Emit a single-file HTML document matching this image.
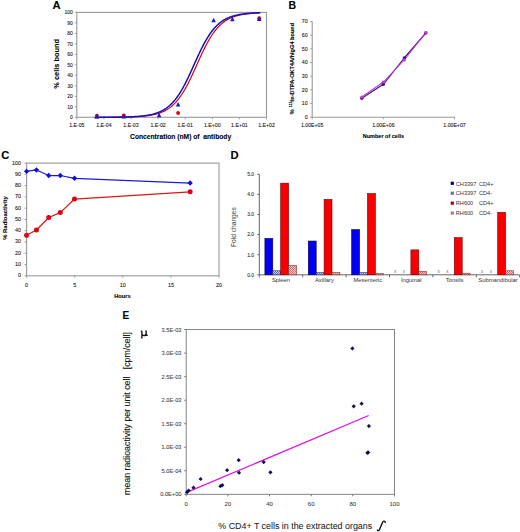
<!DOCTYPE html>
<html><head><meta charset="utf-8"><style>
html,body{margin:0;padding:0;background:#fff;}
svg{display:block;}
text{font-family:"Liberation Sans", sans-serif;}
</style></head><body>
<svg width="520" height="532" viewBox="0 0 520 532">
<defs>
<pattern id="pb" width="2" height="2" patternUnits="userSpaceOnUse"><rect width="2" height="2" fill="#c8d0f8"/><rect width="1" height="1" fill="#5868d8"/><rect x="1" y="1" width="1" height="1" fill="#5868d8"/></pattern>
<pattern id="pp" width="2" height="2" patternUnits="userSpaceOnUse"><rect width="2" height="2" fill="#f8c8c8"/><rect width="1" height="1" fill="#d86868"/><rect x="1" y="1" width="1" height="1" fill="#d86868"/></pattern>
</defs>
<rect width="520" height="532" fill="#fff"/>
<text x="52.60" y="8.60" font-size="11.2" text-anchor="start" font-weight="bold" fill="#000" stroke="#000" stroke-width="0.1">A</text>
<rect x="76.80" y="12.40" width="189.70" height="104.90" fill="none" stroke="#999" stroke-width="1.1"/>
<line x1="74.80" y1="117.30" x2="76.80" y2="117.30" stroke="#999" stroke-width="1"/>
<text x="72.90" y="119.10" font-size="5.0" text-anchor="end" font-weight="normal" fill="#222" stroke="#222" stroke-width="0.1">0</text>
<line x1="74.80" y1="106.81" x2="76.80" y2="106.81" stroke="#999" stroke-width="1"/>
<text x="72.90" y="108.61" font-size="5.0" text-anchor="end" font-weight="normal" fill="#222" stroke="#222" stroke-width="0.1">10</text>
<line x1="74.80" y1="96.32" x2="76.80" y2="96.32" stroke="#999" stroke-width="1"/>
<text x="72.90" y="98.12" font-size="5.0" text-anchor="end" font-weight="normal" fill="#222" stroke="#222" stroke-width="0.1">20</text>
<line x1="74.80" y1="85.83" x2="76.80" y2="85.83" stroke="#999" stroke-width="1"/>
<text x="72.90" y="87.63" font-size="5.0" text-anchor="end" font-weight="normal" fill="#222" stroke="#222" stroke-width="0.1">30</text>
<line x1="74.80" y1="75.34" x2="76.80" y2="75.34" stroke="#999" stroke-width="1"/>
<text x="72.90" y="77.14" font-size="5.0" text-anchor="end" font-weight="normal" fill="#222" stroke="#222" stroke-width="0.1">40</text>
<line x1="74.80" y1="64.85" x2="76.80" y2="64.85" stroke="#999" stroke-width="1"/>
<text x="72.90" y="66.65" font-size="5.0" text-anchor="end" font-weight="normal" fill="#222" stroke="#222" stroke-width="0.1">50</text>
<line x1="74.80" y1="54.36" x2="76.80" y2="54.36" stroke="#999" stroke-width="1"/>
<text x="72.90" y="56.16" font-size="5.0" text-anchor="end" font-weight="normal" fill="#222" stroke="#222" stroke-width="0.1">60</text>
<line x1="74.80" y1="43.87" x2="76.80" y2="43.87" stroke="#999" stroke-width="1"/>
<text x="72.90" y="45.67" font-size="5.0" text-anchor="end" font-weight="normal" fill="#222" stroke="#222" stroke-width="0.1">70</text>
<line x1="74.80" y1="33.38" x2="76.80" y2="33.38" stroke="#999" stroke-width="1"/>
<text x="72.90" y="35.18" font-size="5.0" text-anchor="end" font-weight="normal" fill="#222" stroke="#222" stroke-width="0.1">80</text>
<line x1="74.80" y1="22.89" x2="76.80" y2="22.89" stroke="#999" stroke-width="1"/>
<text x="72.90" y="24.69" font-size="5.0" text-anchor="end" font-weight="normal" fill="#222" stroke="#222" stroke-width="0.1">90</text>
<line x1="74.80" y1="12.40" x2="76.80" y2="12.40" stroke="#999" stroke-width="1"/>
<text x="72.90" y="14.20" font-size="5.0" text-anchor="end" font-weight="normal" fill="#222" stroke="#222" stroke-width="0.1">100</text>
<line x1="76.80" y1="117.30" x2="76.80" y2="119.30" stroke="#999" stroke-width="1"/>
<text x="76.80" y="127.20" font-size="5.2" text-anchor="middle" font-weight="normal" fill="#222" stroke="#222" stroke-width="0.1">1.E-05</text>
<line x1="103.90" y1="117.30" x2="103.90" y2="119.30" stroke="#999" stroke-width="1"/>
<text x="103.90" y="127.20" font-size="5.2" text-anchor="middle" font-weight="normal" fill="#222" stroke="#222" stroke-width="0.1">1.E-04</text>
<line x1="131.00" y1="117.30" x2="131.00" y2="119.30" stroke="#999" stroke-width="1"/>
<text x="131.00" y="127.20" font-size="5.2" text-anchor="middle" font-weight="normal" fill="#222" stroke="#222" stroke-width="0.1">1.E-03</text>
<line x1="158.10" y1="117.30" x2="158.10" y2="119.30" stroke="#999" stroke-width="1"/>
<text x="158.10" y="127.20" font-size="5.2" text-anchor="middle" font-weight="normal" fill="#222" stroke="#222" stroke-width="0.1">1.E-02</text>
<line x1="185.20" y1="117.30" x2="185.20" y2="119.30" stroke="#999" stroke-width="1"/>
<text x="185.20" y="127.20" font-size="5.2" text-anchor="middle" font-weight="normal" fill="#222" stroke="#222" stroke-width="0.1">1.E-01</text>
<line x1="212.30" y1="117.30" x2="212.30" y2="119.30" stroke="#999" stroke-width="1"/>
<text x="212.30" y="127.20" font-size="5.2" text-anchor="middle" font-weight="normal" fill="#222" stroke="#222" stroke-width="0.1">1.E+00</text>
<line x1="239.40" y1="117.30" x2="239.40" y2="119.30" stroke="#999" stroke-width="1"/>
<text x="239.40" y="127.20" font-size="5.2" text-anchor="middle" font-weight="normal" fill="#222" stroke="#222" stroke-width="0.1">1.E+01</text>
<line x1="266.50" y1="117.30" x2="266.50" y2="119.30" stroke="#999" stroke-width="1"/>
<text x="266.50" y="127.20" font-size="5.2" text-anchor="middle" font-weight="normal" fill="#222" stroke="#222" stroke-width="0.1">1.E+02</text>
<text x="59.20" y="63.80" font-size="7.4" text-anchor="middle" font-weight="bold" fill="#000" stroke="#000" stroke-width="0.1" transform="rotate(-90 59.20 63.80)">% cells bound</text>
<text x="130.10" y="138.60" font-size="6.7" text-anchor="start" font-weight="bold" fill="#000" stroke="#000" stroke-width="0.1" xml:space="preserve">Concentration (nM) of  antibody</text>
<polyline points="95.20,117.28 95.70,117.28 96.20,117.28 96.70,117.28 97.20,117.28 97.70,117.28 98.20,117.28 98.70,117.27 99.20,117.27 99.70,117.27 100.20,117.27 100.70,117.27 101.20,117.27 101.70,117.27 102.20,117.27 102.70,117.26 103.20,117.26 103.70,117.26 104.20,117.26 104.70,117.26 105.20,117.26 105.70,117.25 106.20,117.25 106.70,117.25 107.20,117.25 107.70,117.25 108.20,117.24 108.70,117.24 109.20,117.24 109.70,117.24 110.20,117.23 110.70,117.23 111.20,117.23 111.70,117.22 112.20,117.22 112.70,117.22 113.20,117.21 113.70,117.21 114.20,117.21 114.70,117.20 115.20,117.20 115.70,117.19 116.20,117.19 116.70,117.18 117.20,117.18 117.70,117.17 118.20,117.17 118.70,117.16 119.20,117.16 119.70,117.15 120.20,117.14 120.70,117.14 121.20,117.13 121.70,117.12 122.20,117.11 122.70,117.11 123.20,117.10 123.70,117.09 124.20,117.08 124.70,117.07 125.20,117.06 125.70,117.05 126.20,117.04 126.70,117.03 127.20,117.02 127.70,117.01 128.20,116.99 128.70,116.98 129.20,116.97 129.70,116.95 130.20,116.94 130.70,116.92 131.20,116.90 131.70,116.89 132.20,116.87 132.70,116.85 133.20,116.83 133.70,116.81 134.20,116.79 134.70,116.77 135.20,116.74 135.70,116.72 136.20,116.69 136.70,116.67 137.20,116.64 137.70,116.61 138.20,116.58 138.70,116.55 139.20,116.52 139.70,116.49 140.20,116.45 140.70,116.41 141.20,116.38 141.70,116.34 142.20,116.30 142.70,116.25 143.20,116.21 143.70,116.16 144.20,116.11 144.70,116.06 145.20,116.01 145.70,115.95 146.20,115.89 146.70,115.83 147.20,115.77 147.70,115.71 148.20,115.64 148.70,115.57 149.20,115.49 149.70,115.42 150.20,115.34 150.70,115.25 151.20,115.17 151.70,115.08 152.20,114.98 152.70,114.88 153.20,114.78 153.70,114.67 154.20,114.56 154.70,114.45 155.20,114.33 155.70,114.20 156.20,114.07 156.70,113.94 157.20,113.79 157.70,113.65 158.20,113.49 158.70,113.34 159.20,113.17 159.70,113.00 160.20,112.82 160.70,112.63 161.20,112.44 161.70,112.24 162.20,112.03 162.70,111.82 163.20,111.59 163.70,111.36 164.20,111.11 164.70,110.86 165.20,110.60 165.70,110.33 166.20,110.05 166.70,109.76 167.20,109.45 167.70,109.14 168.20,108.81 168.70,108.48 169.20,108.13 169.70,107.76 170.20,107.39 170.70,107.00 171.20,106.60 171.70,106.18 172.20,105.76 172.70,105.31 173.20,104.85 173.70,104.38 174.20,103.89 174.70,103.39 175.20,102.86 175.70,102.33 176.20,101.77 176.70,101.20 177.20,100.62 177.70,100.01 178.20,99.39 178.70,98.75 179.20,98.09 179.70,97.42 180.20,96.72 180.70,96.01 181.20,95.28 181.70,94.53 182.20,93.77 182.70,92.98 183.20,92.18 183.70,91.36 184.20,90.52 184.70,89.66 185.20,88.79 185.70,87.90 186.20,86.99 186.70,86.07 187.20,85.13 187.70,84.17 188.20,83.20 188.70,82.22 189.20,81.22 189.70,80.21 190.20,79.18 190.70,78.15 191.20,77.10 191.70,76.04 192.20,74.97 192.70,73.89 193.20,72.81 193.70,71.72 194.20,70.62 194.70,69.52 195.20,68.41 195.70,67.30 196.20,66.19 196.70,65.07 197.20,63.96 197.70,62.85 198.20,61.73 198.70,60.63 199.20,59.52 199.70,58.42 200.20,57.33 200.70,56.24 201.20,55.16 201.70,54.09 202.20,53.02 202.70,51.97 203.20,50.93 203.70,49.90 204.20,48.88 204.70,47.88 205.20,46.89 205.70,45.91 206.20,44.95 206.70,44.01 207.20,43.08 207.70,42.16 208.20,41.26 208.70,40.38 209.20,39.52 209.70,38.68 210.20,37.85 210.70,37.04 211.20,36.25 211.70,35.47 212.20,34.72 212.70,33.98 213.20,33.26 213.70,32.56 214.20,31.88 214.70,31.21 215.20,30.56 215.70,29.94 216.20,29.32 216.70,28.73 217.20,28.15 217.70,27.59 218.20,27.05 218.70,26.52 219.20,26.01 219.70,25.51 220.20,25.03 220.70,24.57 221.20,24.12 221.70,23.69 222.20,23.26 222.70,22.86 223.20,22.46 223.70,22.08 224.20,21.72 224.70,21.36 225.20,21.02 225.70,20.69 226.20,20.37 226.70,20.06 227.20,19.77 227.70,19.48 228.20,19.21 228.70,18.94 229.20,18.69 229.70,18.44 230.20,18.20 230.70,17.97 231.20,17.75 231.70,17.54 232.20,17.34 232.70,17.14 233.20,16.95 233.70,16.77 234.20,16.60 234.70,16.43 235.20,16.27 235.70,16.11 236.20,15.96 236.70,15.82 237.20,15.68 237.70,15.55 238.20,15.42 238.70,15.30 239.20,15.18 239.70,15.07 240.20,14.96 240.70,14.86 241.20,14.76 241.70,14.66 242.20,14.57 242.70,14.48 243.20,14.40 243.70,14.31 244.20,14.24 244.70,14.16 245.20,14.09 245.70,14.02 246.20,13.95 246.70,13.89 247.20,13.83 247.70,13.77 248.20,13.71 248.70,13.66 249.20,13.61 249.70,13.56 250.20,13.51 250.70,13.47 251.20,13.42 251.70,13.38 252.20,13.34 252.70,13.30 253.20,13.26 253.70,13.23 254.20,13.19 254.70,13.16 255.20,13.13 255.70,13.10 256.20,13.07 256.70,13.04 257.20,13.02 257.70,12.99 258.20,12.97 258.70,12.94 259.20,12.92 259.70,12.90" fill="none" stroke="#e00000" stroke-width="1.2" stroke-linejoin="round" stroke-linecap="round"/>
<polyline points="95.20,117.28 95.70,117.28 96.20,117.27 96.70,117.27 97.20,117.27 97.70,117.27 98.20,117.27 98.70,117.27 99.20,117.27 99.70,117.27 100.20,117.26 100.70,117.26 101.20,117.26 101.70,117.26 102.20,117.26 102.70,117.26 103.20,117.25 103.70,117.25 104.20,117.25 104.70,117.25 105.20,117.24 105.70,117.24 106.20,117.24 106.70,117.24 107.20,117.23 107.70,117.23 108.20,117.23 108.70,117.23 109.20,117.22 109.70,117.22 110.20,117.22 110.70,117.21 111.20,117.21 111.70,117.20 112.20,117.20 112.70,117.20 113.20,117.19 113.70,117.19 114.20,117.18 114.70,117.18 115.20,117.17 115.70,117.16 116.20,117.16 116.70,117.15 117.20,117.15 117.70,117.14 118.20,117.13 118.70,117.13 119.20,117.12 119.70,117.11 120.20,117.10 120.70,117.09 121.20,117.08 121.70,117.08 122.20,117.07 122.70,117.06 123.20,117.04 123.70,117.03 124.20,117.02 124.70,117.01 125.20,117.00 125.70,116.98 126.20,116.97 126.70,116.96 127.20,116.94 127.70,116.93 128.20,116.91 128.70,116.89 129.20,116.88 129.70,116.86 130.20,116.84 130.70,116.82 131.20,116.80 131.70,116.78 132.20,116.75 132.70,116.73 133.20,116.70 133.70,116.68 134.20,116.65 134.70,116.62 135.20,116.60 135.70,116.56 136.20,116.53 136.70,116.50 137.20,116.47 137.70,116.43 138.20,116.39 138.70,116.35 139.20,116.31 139.70,116.27 140.20,116.23 140.70,116.18 141.20,116.13 141.70,116.08 142.20,116.03 142.70,115.97 143.20,115.92 143.70,115.86 144.20,115.80 144.70,115.73 145.20,115.67 145.70,115.60 146.20,115.52 146.70,115.45 147.20,115.37 147.70,115.29 148.20,115.20 148.70,115.11 149.20,115.02 149.70,114.92 150.20,114.82 150.70,114.72 151.20,114.61 151.70,114.49 152.20,114.38 152.70,114.25 153.20,114.12 153.70,113.99 154.20,113.85 154.70,113.71 155.20,113.56 155.70,113.40 156.20,113.24 156.70,113.07 157.20,112.89 157.70,112.71 158.20,112.52 158.70,112.32 159.20,112.12 159.70,111.90 160.20,111.68 160.70,111.45 161.20,111.21 161.70,110.96 162.20,110.71 162.70,110.44 163.20,110.16 163.70,109.87 164.20,109.57 164.70,109.26 165.20,108.94 165.70,108.61 166.20,108.27 166.70,107.91 167.20,107.54 167.70,107.16 168.20,106.76 168.70,106.35 169.20,105.93 169.70,105.49 170.20,105.04 170.70,104.57 171.20,104.09 171.70,103.59 172.20,103.07 172.70,102.54 173.20,102.00 173.70,101.43 174.20,100.85 174.70,100.26 175.20,99.64 175.70,99.01 176.20,98.36 176.70,97.69 177.20,97.00 177.70,96.30 178.20,95.57 178.70,94.83 179.20,94.07 179.70,93.30 180.20,92.50 180.70,91.69 181.20,90.86 181.70,90.01 182.20,89.14 182.70,88.26 183.20,87.36 183.70,86.44 184.20,85.51 184.70,84.56 185.20,83.59 185.70,82.61 186.20,81.62 186.70,80.61 187.20,79.59 187.70,78.56 188.20,77.52 188.70,76.46 189.20,75.40 189.70,74.33 190.20,73.24 190.70,72.16 191.20,71.06 191.70,69.96 192.20,68.85 192.70,67.74 193.20,66.63 193.70,65.52 194.20,64.40 194.70,63.29 195.20,62.18 195.70,61.07 196.20,59.96 196.70,58.86 197.20,57.76 197.70,56.67 198.20,55.59 198.70,54.51 199.20,53.45 199.70,52.39 200.20,51.35 200.70,50.31 201.20,49.29 201.70,48.28 202.20,47.28 202.70,46.30 203.20,45.33 203.70,44.38 204.20,43.45 204.70,42.52 205.20,41.62 205.70,40.73 206.20,39.86 206.70,39.01 207.20,38.18 207.70,37.36 208.20,36.56 208.70,35.78 209.20,35.02 209.70,34.27 210.20,33.55 210.70,32.84 211.20,32.15 211.70,31.48 212.20,30.82 212.70,30.19 213.20,29.57 213.70,28.97 214.20,28.38 214.70,27.81 215.20,27.26 215.70,26.73 216.20,26.21 216.70,25.71 217.20,25.22 217.70,24.75 218.20,24.30 218.70,23.86 219.20,23.43 219.70,23.02 220.20,22.62 220.70,22.24 221.20,21.86 221.70,21.50 222.20,21.16 222.70,20.82 223.20,20.50 223.70,20.19 224.20,19.89 224.70,19.60 225.20,19.32 225.70,19.05 226.20,18.79 226.70,18.54 227.20,18.30 227.70,18.06 228.20,17.84 228.70,17.63 229.20,17.42 229.70,17.22 230.20,17.03 230.70,16.84 231.20,16.67 231.70,16.50 232.20,16.33 232.70,16.17 233.20,16.02 233.70,15.88 234.20,15.74 234.70,15.60 235.20,15.47 235.70,15.35 236.20,15.23 236.70,15.11 237.20,15.00 237.70,14.90 238.20,14.80 238.70,14.70 239.20,14.61 239.70,14.52 240.20,14.43 240.70,14.35 241.20,14.27 241.70,14.19 242.20,14.12 242.70,14.05 243.20,13.98 243.70,13.92 244.20,13.85 244.70,13.79 245.20,13.74 245.70,13.68 246.20,13.63 246.70,13.58 247.20,13.53 247.70,13.48 248.20,13.44 248.70,13.40 249.20,13.35 249.70,13.32 250.20,13.28 250.70,13.24 251.20,13.21 251.70,13.17 252.20,13.14 252.70,13.11 253.20,13.08 253.70,13.05 254.20,13.03 254.70,13.00 255.20,12.98 255.70,12.95 256.20,12.93 256.70,12.91 257.20,12.89 257.70,12.87 258.20,12.85 258.70,12.83 259.20,12.81 259.70,12.79" fill="none" stroke="#1010c8" stroke-width="1.5" stroke-linejoin="round" stroke-linecap="round"/>
<circle cx="96.90" cy="115.60" r="1.9" fill="#d80000"/>
<circle cx="123.80" cy="115.40" r="1.9" fill="#d80000"/>
<circle cx="178.10" cy="113.00" r="1.9" fill="#d80000"/>
<circle cx="259.20" cy="18.20" r="1.9" fill="#d80000"/>
<polygon points="96.90,114.07 94.60,118.67 99.20,118.67" fill="#1c1cc0"/>
<polygon points="123.80,113.87 121.50,118.47 126.10,118.47" fill="#1c1cc0"/>
<polygon points="159.10,112.77 156.80,117.37 161.40,117.37" fill="#1c1cc0"/>
<polygon points="178.10,101.97 175.80,106.57 180.40,106.57" fill="#1c1cc0"/>
<polygon points="213.60,17.67 211.30,22.27 215.90,22.27" fill="#1c1cc0"/>
<polygon points="232.40,16.77 230.10,21.37 234.70,21.37" fill="#1c1cc0"/>
<polygon points="259.20,16.47 256.90,21.07 261.50,21.07" fill="#1c1cc0"/>
<text x="288.40" y="8.50" font-size="10.5" text-anchor="start" font-weight="bold" fill="#000" stroke="#000" stroke-width="0.1">B</text>
<line x1="312.20" y1="21.51" x2="312.20" y2="117.20" stroke="#999" stroke-width="1.1"/>
<line x1="312.20" y1="117.20" x2="454.50" y2="117.20" stroke="#999" stroke-width="1.1"/>
<line x1="310.20" y1="117.20" x2="312.20" y2="117.20" stroke="#999" stroke-width="1"/>
<text x="307.60" y="119.00" font-size="5.2" text-anchor="end" font-weight="normal" fill="#222" stroke="#222" stroke-width="0.1">0</text>
<line x1="310.20" y1="103.53" x2="312.20" y2="103.53" stroke="#999" stroke-width="1"/>
<text x="307.60" y="105.33" font-size="5.2" text-anchor="end" font-weight="normal" fill="#222" stroke="#222" stroke-width="0.1">10</text>
<line x1="310.20" y1="89.86" x2="312.20" y2="89.86" stroke="#999" stroke-width="1"/>
<text x="307.60" y="91.66" font-size="5.2" text-anchor="end" font-weight="normal" fill="#222" stroke="#222" stroke-width="0.1">20</text>
<line x1="310.20" y1="76.19" x2="312.20" y2="76.19" stroke="#999" stroke-width="1"/>
<text x="307.60" y="77.99" font-size="5.2" text-anchor="end" font-weight="normal" fill="#222" stroke="#222" stroke-width="0.1">30</text>
<line x1="310.20" y1="62.52" x2="312.20" y2="62.52" stroke="#999" stroke-width="1"/>
<text x="307.60" y="64.32" font-size="5.2" text-anchor="end" font-weight="normal" fill="#222" stroke="#222" stroke-width="0.1">40</text>
<line x1="310.20" y1="48.85" x2="312.20" y2="48.85" stroke="#999" stroke-width="1"/>
<text x="307.60" y="50.65" font-size="5.2" text-anchor="end" font-weight="normal" fill="#222" stroke="#222" stroke-width="0.1">50</text>
<line x1="310.20" y1="35.18" x2="312.20" y2="35.18" stroke="#999" stroke-width="1"/>
<text x="307.60" y="36.98" font-size="5.2" text-anchor="end" font-weight="normal" fill="#222" stroke="#222" stroke-width="0.1">60</text>
<line x1="310.20" y1="21.51" x2="312.20" y2="21.51" stroke="#999" stroke-width="1"/>
<text x="307.60" y="23.31" font-size="5.2" text-anchor="end" font-weight="normal" fill="#222" stroke="#222" stroke-width="0.1">70</text>
<line x1="312.20" y1="117.20" x2="312.20" y2="119.20" stroke="#999" stroke-width="1"/>
<text x="312.20" y="127.00" font-size="5.2" text-anchor="middle" font-weight="normal" fill="#222" stroke="#222" stroke-width="0.1">1.00E+05</text>
<line x1="383.35" y1="117.20" x2="383.35" y2="119.20" stroke="#999" stroke-width="1"/>
<text x="383.35" y="127.00" font-size="5.2" text-anchor="middle" font-weight="normal" fill="#222" stroke="#222" stroke-width="0.1">1.00E+06</text>
<line x1="454.50" y1="117.20" x2="454.50" y2="119.20" stroke="#999" stroke-width="1"/>
<text x="454.50" y="127.00" font-size="5.2" text-anchor="middle" font-weight="normal" fill="#222" stroke="#222" stroke-width="0.1">1.00E+07</text>
<text x="294.00" y="68.50" font-size="5.6" text-anchor="middle" font-weight="bold" fill="#000" stroke="#000" stroke-width="0.1" transform="rotate(-90 294.00 68.50)">% <tspan font-size="4" dy="-2.2">111</tspan><tspan dy="2.2">In-DTPA-OKT4A/hIgG4 bound</tspan></text>
<text x="383.40" y="138.10" font-size="5.5" text-anchor="middle" font-weight="bold" fill="#000" stroke="#000" stroke-width="0.1">Number of cells</text>
<polyline points="361.80,98.30 383.30,84.30 404.30,58.00 425.80,33.00" fill="none" stroke="#3a1488" stroke-width="1.2" stroke-linejoin="round" stroke-linecap="round"/>
<polyline points="361.80,97.00 383.30,82.00 404.30,60.00 425.80,32.50" fill="none" stroke="#c838d8" stroke-width="1.05" stroke-linejoin="round" stroke-linecap="round"/>
<circle cx="361.80" cy="98.30" r="1.7" fill="#40108a"/>
<circle cx="383.30" cy="84.30" r="1.7" fill="#40108a"/>
<circle cx="404.30" cy="58.00" r="1.7" fill="#40108a"/>
<circle cx="425.80" cy="33.00" r="1.7" fill="#40108a"/>
<circle cx="361.80" cy="97.00" r="1.6" fill="#c838d8"/>
<circle cx="383.30" cy="82.00" r="1.6" fill="#c838d8"/>
<circle cx="404.30" cy="60.00" r="1.6" fill="#c838d8"/>
<circle cx="425.80" cy="32.50" r="1.6" fill="#c838d8"/>
<text x="1.20" y="158.50" font-size="11.2" text-anchor="start" font-weight="bold" fill="#000" stroke="#000" stroke-width="0.1">C</text>
<rect x="26.60" y="163.10" width="192.40" height="112.70" fill="none" stroke="#999" stroke-width="1.1"/>
<line x1="24.60" y1="275.80" x2="26.60" y2="275.80" stroke="#999" stroke-width="1"/>
<text x="20.90" y="277.30" font-size="5.4" text-anchor="end" font-weight="normal" fill="#222" stroke="#222" stroke-width="0.1">0</text>
<line x1="24.60" y1="264.53" x2="26.60" y2="264.53" stroke="#999" stroke-width="1"/>
<text x="20.90" y="266.03" font-size="5.4" text-anchor="end" font-weight="normal" fill="#222" stroke="#222" stroke-width="0.1">10</text>
<line x1="24.60" y1="253.26" x2="26.60" y2="253.26" stroke="#999" stroke-width="1"/>
<text x="20.90" y="254.76" font-size="5.4" text-anchor="end" font-weight="normal" fill="#222" stroke="#222" stroke-width="0.1">20</text>
<line x1="24.60" y1="241.99" x2="26.60" y2="241.99" stroke="#999" stroke-width="1"/>
<text x="20.90" y="243.49" font-size="5.4" text-anchor="end" font-weight="normal" fill="#222" stroke="#222" stroke-width="0.1">30</text>
<line x1="24.60" y1="230.72" x2="26.60" y2="230.72" stroke="#999" stroke-width="1"/>
<text x="20.90" y="232.22" font-size="5.4" text-anchor="end" font-weight="normal" fill="#222" stroke="#222" stroke-width="0.1">40</text>
<line x1="24.60" y1="219.45" x2="26.60" y2="219.45" stroke="#999" stroke-width="1"/>
<text x="20.90" y="220.95" font-size="5.4" text-anchor="end" font-weight="normal" fill="#222" stroke="#222" stroke-width="0.1">50</text>
<line x1="24.60" y1="208.18" x2="26.60" y2="208.18" stroke="#999" stroke-width="1"/>
<text x="20.90" y="209.68" font-size="5.4" text-anchor="end" font-weight="normal" fill="#222" stroke="#222" stroke-width="0.1">60</text>
<line x1="24.60" y1="196.91" x2="26.60" y2="196.91" stroke="#999" stroke-width="1"/>
<text x="20.90" y="198.41" font-size="5.4" text-anchor="end" font-weight="normal" fill="#222" stroke="#222" stroke-width="0.1">70</text>
<line x1="24.60" y1="185.64" x2="26.60" y2="185.64" stroke="#999" stroke-width="1"/>
<text x="20.90" y="187.14" font-size="5.4" text-anchor="end" font-weight="normal" fill="#222" stroke="#222" stroke-width="0.1">80</text>
<line x1="24.60" y1="174.37" x2="26.60" y2="174.37" stroke="#999" stroke-width="1"/>
<text x="20.90" y="175.87" font-size="5.4" text-anchor="end" font-weight="normal" fill="#222" stroke="#222" stroke-width="0.1">90</text>
<line x1="24.60" y1="163.10" x2="26.60" y2="163.10" stroke="#999" stroke-width="1"/>
<text x="20.90" y="164.60" font-size="5.4" text-anchor="end" font-weight="normal" fill="#222" stroke="#222" stroke-width="0.1">100</text>
<line x1="26.60" y1="275.80" x2="26.60" y2="277.80" stroke="#999" stroke-width="1"/>
<text x="26.60" y="287.00" font-size="5.4" text-anchor="middle" font-weight="normal" fill="#222" stroke="#222" stroke-width="0.1">0</text>
<line x1="74.70" y1="275.80" x2="74.70" y2="277.80" stroke="#999" stroke-width="1"/>
<text x="74.70" y="287.00" font-size="5.4" text-anchor="middle" font-weight="normal" fill="#222" stroke="#222" stroke-width="0.1">5</text>
<line x1="122.80" y1="275.80" x2="122.80" y2="277.80" stroke="#999" stroke-width="1"/>
<text x="122.80" y="287.00" font-size="5.4" text-anchor="middle" font-weight="normal" fill="#222" stroke="#222" stroke-width="0.1">10</text>
<line x1="170.90" y1="275.80" x2="170.90" y2="277.80" stroke="#999" stroke-width="1"/>
<text x="170.90" y="287.00" font-size="5.4" text-anchor="middle" font-weight="normal" fill="#222" stroke="#222" stroke-width="0.1">15</text>
<line x1="219.00" y1="275.80" x2="219.00" y2="277.80" stroke="#999" stroke-width="1"/>
<text x="219.00" y="287.00" font-size="5.4" text-anchor="middle" font-weight="normal" fill="#222" stroke="#222" stroke-width="0.1">20</text>
<text x="6.80" y="218.00" font-size="5.9" text-anchor="middle" font-weight="bold" fill="#000" stroke="#000" stroke-width="0.1" transform="rotate(-90 6.80 218.00)">% Radioactivity</text>
<text x="114.20" y="298.30" font-size="5.7" text-anchor="start" font-weight="bold" fill="#000" stroke="#000" stroke-width="0.1">Hours</text>
<polyline points="26.60,171.33 36.41,169.97 48.73,175.50 60.27,175.50 74.51,178.31 190.14,183.05" fill="none" stroke="#1a1adc" stroke-width="1.25" stroke-linejoin="round" stroke-linecap="round"/>
<polyline points="26.60,235.34 36.41,230.04 48.73,217.53 60.27,212.58 74.51,199.05 190.14,191.84" fill="none" stroke="#d81818" stroke-width="1.2" stroke-linejoin="round" stroke-linecap="round"/>
<polygon points="26.60,168.63 29.30,171.33 26.60,174.03 23.90,171.33" fill="#1010d8"/>
<polygon points="36.41,167.27 39.11,169.97 36.41,172.67 33.71,169.97" fill="#1010d8"/>
<polygon points="48.73,172.80 51.43,175.50 48.73,178.20 46.03,175.50" fill="#1010d8"/>
<polygon points="60.27,172.80 62.97,175.50 60.27,178.20 57.57,175.50" fill="#1010d8"/>
<polygon points="74.51,175.61 77.21,178.31 74.51,181.01 71.81,178.31" fill="#1010d8"/>
<polygon points="190.14,180.35 192.84,183.05 190.14,185.75 187.44,183.05" fill="#1010d8"/>
<circle cx="26.60" cy="235.34" r="2.5" fill="#e00010"/>
<circle cx="36.41" cy="230.04" r="2.5" fill="#e00010"/>
<circle cx="48.73" cy="217.53" r="2.5" fill="#e00010"/>
<circle cx="60.27" cy="212.58" r="2.5" fill="#e00010"/>
<circle cx="74.51" cy="199.05" r="2.5" fill="#e00010"/>
<circle cx="190.14" cy="191.84" r="2.5" fill="#e00010"/>
<text x="230.50" y="158.80" font-size="11.2" text-anchor="start" font-weight="bold" fill="#000" stroke="#000" stroke-width="0.1">D</text>
<line x1="259.30" y1="174.30" x2="259.30" y2="274.80" stroke="#666" stroke-width="1"/>
<line x1="259.30" y1="274.80" x2="519.70" y2="274.80" stroke="#666" stroke-width="1"/>
<line x1="257.30" y1="274.80" x2="259.30" y2="274.80" stroke="#666" stroke-width="1"/>
<text x="254.10" y="276.60" font-size="5.0" text-anchor="end" font-weight="normal" fill="#333" stroke="#333" stroke-width="0.1">0.0</text>
<line x1="257.30" y1="254.70" x2="259.30" y2="254.70" stroke="#666" stroke-width="1"/>
<text x="254.10" y="256.50" font-size="5.0" text-anchor="end" font-weight="normal" fill="#333" stroke="#333" stroke-width="0.1">1.0</text>
<line x1="257.30" y1="234.60" x2="259.30" y2="234.60" stroke="#666" stroke-width="1"/>
<text x="254.10" y="236.40" font-size="5.0" text-anchor="end" font-weight="normal" fill="#333" stroke="#333" stroke-width="0.1">2.0</text>
<line x1="257.30" y1="214.50" x2="259.30" y2="214.50" stroke="#666" stroke-width="1"/>
<text x="254.10" y="216.30" font-size="5.0" text-anchor="end" font-weight="normal" fill="#333" stroke="#333" stroke-width="0.1">3.0</text>
<line x1="257.30" y1="194.40" x2="259.30" y2="194.40" stroke="#666" stroke-width="1"/>
<text x="254.10" y="196.20" font-size="5.0" text-anchor="end" font-weight="normal" fill="#333" stroke="#333" stroke-width="0.1">4.0</text>
<line x1="257.30" y1="174.30" x2="259.30" y2="174.30" stroke="#666" stroke-width="1"/>
<text x="254.10" y="176.10" font-size="5.0" text-anchor="end" font-weight="normal" fill="#333" stroke="#333" stroke-width="0.1">5.0</text>
<line x1="259.30" y1="274.80" x2="259.30" y2="277.30" stroke="#666" stroke-width="1"/>
<line x1="302.70" y1="274.80" x2="302.70" y2="277.30" stroke="#666" stroke-width="1"/>
<line x1="346.10" y1="274.80" x2="346.10" y2="277.30" stroke="#666" stroke-width="1"/>
<line x1="389.50" y1="274.80" x2="389.50" y2="277.30" stroke="#666" stroke-width="1"/>
<line x1="432.90" y1="274.80" x2="432.90" y2="277.30" stroke="#666" stroke-width="1"/>
<line x1="476.30" y1="274.80" x2="476.30" y2="277.30" stroke="#666" stroke-width="1"/>
<line x1="519.70" y1="274.80" x2="519.70" y2="277.30" stroke="#666" stroke-width="1"/>
<text x="281.00" y="282.40" font-size="5.85" text-anchor="middle" font-weight="normal" fill="#333">Spleen</text>
<text x="324.40" y="282.40" font-size="5.85" text-anchor="middle" font-weight="normal" fill="#333">Axillary</text>
<text x="367.80" y="282.40" font-size="5.85" text-anchor="middle" font-weight="normal" fill="#333">Mesenteric</text>
<text x="411.20" y="282.40" font-size="5.85" text-anchor="middle" font-weight="normal" fill="#333">Inguinal</text>
<text x="454.60" y="282.40" font-size="5.85" text-anchor="middle" font-weight="normal" fill="#333">Tonsils</text>
<text x="498.00" y="282.40" font-size="5.85" text-anchor="middle" font-weight="normal" fill="#333">Submandibular</text>
<text x="236.40" y="227.10" font-size="6.6" text-anchor="middle" font-weight="normal" fill="#444" transform="rotate(-90 236.40 227.10)">Fold changes</text>
<rect x="264.90" y="238.42" width="7.90" height="36.38" fill="#0000f0" stroke="#000050" stroke-width="0.6"/>
<rect x="272.80" y="270.78" width="7.90" height="4.02" fill="url(#pb)" stroke="#303070" stroke-width="0.6"/>
<rect x="280.70" y="183.14" width="7.90" height="91.66" fill="#f80000" stroke="#700000" stroke-width="0.6"/>
<rect x="288.60" y="265.55" width="7.90" height="9.25" fill="url(#pp)" stroke="#803030" stroke-width="0.6"/>
<rect x="308.30" y="241.03" width="7.90" height="33.77" fill="#0000f0" stroke="#000050" stroke-width="0.6"/>
<rect x="316.20" y="272.59" width="7.90" height="2.21" fill="url(#pb)" stroke="#303070" stroke-width="0.6"/>
<rect x="324.10" y="199.43" width="7.90" height="75.38" fill="#f80000" stroke="#700000" stroke-width="0.6"/>
<rect x="332.00" y="272.59" width="7.90" height="2.21" fill="url(#pp)" stroke="#803030" stroke-width="0.6"/>
<rect x="351.70" y="229.58" width="7.90" height="45.23" fill="#0000f0" stroke="#000050" stroke-width="0.6"/>
<rect x="359.60" y="272.59" width="7.90" height="2.21" fill="url(#pb)" stroke="#303070" stroke-width="0.6"/>
<rect x="367.50" y="193.60" width="7.90" height="81.20" fill="#f80000" stroke="#700000" stroke-width="0.6"/>
<rect x="375.40" y="273.59" width="7.90" height="1.21" fill="url(#pp)" stroke="#803030" stroke-width="0.6"/>
<text x="395.20" y="273.00" font-size="4.6" text-anchor="middle" font-weight="normal" fill="#666">x</text>
<text x="404.00" y="273.00" font-size="4.6" text-anchor="middle" font-weight="normal" fill="#666">x</text>
<rect x="410.90" y="249.88" width="7.90" height="24.92" fill="#f80000" stroke="#700000" stroke-width="0.6"/>
<rect x="418.80" y="271.38" width="7.90" height="3.42" fill="url(#pp)" stroke="#803030" stroke-width="0.6"/>
<text x="438.60" y="273.00" font-size="4.6" text-anchor="middle" font-weight="normal" fill="#666">x</text>
<text x="447.40" y="273.00" font-size="4.6" text-anchor="middle" font-weight="normal" fill="#666">x</text>
<rect x="454.30" y="237.62" width="7.90" height="37.19" fill="#f80000" stroke="#700000" stroke-width="0.6"/>
<rect x="462.20" y="273.19" width="7.90" height="1.61" fill="url(#pp)" stroke="#803030" stroke-width="0.6"/>
<text x="482.00" y="273.00" font-size="4.6" text-anchor="middle" font-weight="normal" fill="#666">x</text>
<text x="490.80" y="273.00" font-size="4.6" text-anchor="middle" font-weight="normal" fill="#666">x</text>
<rect x="497.70" y="212.29" width="7.90" height="62.51" fill="#f80000" stroke="#700000" stroke-width="0.6"/>
<rect x="505.60" y="270.78" width="7.90" height="4.02" fill="url(#pp)" stroke="#803030" stroke-width="0.6"/>
<rect x="450.70" y="181.70" width="3.20" height="3.20" fill="#000080" stroke="none" stroke-width="1"/>
<text x="455.80" y="185.50" font-size="5.6" text-anchor="start" font-weight="normal" fill="#333">CH3397</text>
<text x="479.00" y="185.50" font-size="5.6" text-anchor="start" font-weight="normal" fill="#333">CD4+</text>
<rect x="450.70" y="191.63" width="3.20" height="3.20" fill="#6070b0" stroke="none" stroke-width="1"/>
<text x="455.80" y="195.43" font-size="5.6" text-anchor="start" font-weight="normal" fill="#333">CH3397</text>
<text x="479.00" y="195.43" font-size="5.6" text-anchor="start" font-weight="normal" fill="#333">CD4-</text>
<rect x="450.70" y="201.56" width="3.20" height="3.20" fill="#a00010" stroke="none" stroke-width="1"/>
<text x="455.80" y="205.36" font-size="5.6" text-anchor="start" font-weight="normal" fill="#333">RH600</text>
<text x="479.00" y="205.36" font-size="5.6" text-anchor="start" font-weight="normal" fill="#333">CD4+</text>
<rect x="450.70" y="211.49" width="3.20" height="3.20" fill="#b07878" stroke="none" stroke-width="1"/>
<text x="455.80" y="215.29" font-size="5.6" text-anchor="start" font-weight="normal" fill="#333">RH600</text>
<text x="479.00" y="215.29" font-size="5.6" text-anchor="start" font-weight="normal" fill="#333">CD4-</text>
<text x="122.50" y="318.50" font-size="10" text-anchor="start" font-weight="bold" fill="#000" stroke="#000" stroke-width="0.1">E</text>
<rect x="186.20" y="329.60" width="208.30" height="164.70" fill="none" stroke="#777" stroke-width="0.9"/>
<line x1="184.20" y1="494.30" x2="186.20" y2="494.30" stroke="#777" stroke-width="1"/>
<text x="181.50" y="496.40" font-size="5.7" text-anchor="end" font-weight="normal" fill="#444" stroke="#444" stroke-width="0.08">0.0E+00</text>
<line x1="184.20" y1="470.77" x2="186.20" y2="470.77" stroke="#777" stroke-width="1"/>
<text x="181.50" y="472.87" font-size="5.7" text-anchor="end" font-weight="normal" fill="#444" stroke="#444" stroke-width="0.08">5.0E-04</text>
<line x1="184.20" y1="447.24" x2="186.20" y2="447.24" stroke="#777" stroke-width="1"/>
<text x="181.50" y="449.34" font-size="5.7" text-anchor="end" font-weight="normal" fill="#444" stroke="#444" stroke-width="0.08">1.0E-03</text>
<line x1="184.20" y1="423.71" x2="186.20" y2="423.71" stroke="#777" stroke-width="1"/>
<text x="181.50" y="425.81" font-size="5.7" text-anchor="end" font-weight="normal" fill="#444" stroke="#444" stroke-width="0.08">1.5E-03</text>
<line x1="184.20" y1="400.19" x2="186.20" y2="400.19" stroke="#777" stroke-width="1"/>
<text x="181.50" y="402.29" font-size="5.7" text-anchor="end" font-weight="normal" fill="#444" stroke="#444" stroke-width="0.08">2.0E-03</text>
<line x1="184.20" y1="376.66" x2="186.20" y2="376.66" stroke="#777" stroke-width="1"/>
<text x="181.50" y="378.76" font-size="5.7" text-anchor="end" font-weight="normal" fill="#444" stroke="#444" stroke-width="0.08">2.5E-03</text>
<line x1="184.20" y1="353.13" x2="186.20" y2="353.13" stroke="#777" stroke-width="1"/>
<text x="181.50" y="355.23" font-size="5.7" text-anchor="end" font-weight="normal" fill="#444" stroke="#444" stroke-width="0.08">3.0E-03</text>
<line x1="184.20" y1="329.60" x2="186.20" y2="329.60" stroke="#777" stroke-width="1"/>
<text x="181.50" y="331.70" font-size="5.7" text-anchor="end" font-weight="normal" fill="#444" stroke="#444" stroke-width="0.08">3.5E-03</text>
<line x1="186.20" y1="494.30" x2="186.20" y2="496.30" stroke="#777" stroke-width="1"/>
<text x="186.20" y="505.70" font-size="6.0" text-anchor="middle" font-weight="normal" fill="#444" stroke="#444" stroke-width="0.08">0</text>
<line x1="227.86" y1="494.30" x2="227.86" y2="496.30" stroke="#777" stroke-width="1"/>
<text x="227.86" y="505.70" font-size="6.0" text-anchor="middle" font-weight="normal" fill="#444" stroke="#444" stroke-width="0.08">20</text>
<line x1="269.52" y1="494.30" x2="269.52" y2="496.30" stroke="#777" stroke-width="1"/>
<text x="269.52" y="505.70" font-size="6.0" text-anchor="middle" font-weight="normal" fill="#444" stroke="#444" stroke-width="0.08">40</text>
<line x1="311.18" y1="494.30" x2="311.18" y2="496.30" stroke="#777" stroke-width="1"/>
<text x="311.18" y="505.70" font-size="6.0" text-anchor="middle" font-weight="normal" fill="#444" stroke="#444" stroke-width="0.08">60</text>
<line x1="352.84" y1="494.30" x2="352.84" y2="496.30" stroke="#777" stroke-width="1"/>
<text x="352.84" y="505.70" font-size="6.0" text-anchor="middle" font-weight="normal" fill="#444" stroke="#444" stroke-width="0.08">80</text>
<line x1="394.50" y1="494.30" x2="394.50" y2="496.30" stroke="#777" stroke-width="1"/>
<text x="394.50" y="505.70" font-size="6.0" text-anchor="middle" font-weight="normal" fill="#444" stroke="#444" stroke-width="0.08">100</text>
<text x="129.90" y="413.50" font-size="8.8" text-anchor="middle" font-weight="normal" fill="#111" stroke="#111" stroke-width="0.1" transform="rotate(-90 129.90 413.50)" xml:space="preserve">mean radioactivity per unit cell   [cpm/cell]</text>
<path d="M140.8,331.2 H141.9 V337.4 L141.3,338.4 M141.9,333.6 C141.9,336.2 145.9,336.2 146.1,333.6 M145.2,331.2 H146.2 V335.3 H147.8" fill="none" stroke="#111" stroke-width="1.3" stroke-linejoin="round"/>
<text x="218.30" y="529.30" font-size="8.9" text-anchor="start" font-weight="normal" fill="#222" stroke="#222" stroke-width="0.05">% CD4+ T cells in the extracted organs</text>
<path d="M385.3,522.4 C385.0,520.9 383.3,520.6 382.6,522.3 L379.5,529.4 C379.0,530.8 378.0,531.0 377.4,530.1" fill="none" stroke="#111" stroke-width="1.4" stroke-linecap="round"/>
<line x1="186.20" y1="492.60" x2="368.70" y2="415.50" stroke="#e010e0" stroke-width="1.3"/>
<polygon points="187.00,490.10 189.10,492.20 187.00,494.30 184.90,492.20" fill="#101060"/>
<polygon points="188.60,488.50 190.70,490.60 188.60,492.70 186.50,490.60" fill="#101060"/>
<polygon points="193.50,485.60 195.60,487.70 193.50,489.80 191.40,487.70" fill="#101060"/>
<polygon points="200.60,476.90 202.70,479.00 200.60,481.10 198.50,479.00" fill="#101060"/>
<polygon points="220.40,484.10 222.50,486.20 220.40,488.30 218.30,486.20" fill="#101060"/>
<polygon points="222.30,483.10 224.40,485.20 222.30,487.30 220.20,485.20" fill="#101060"/>
<polygon points="227.10,468.10 229.20,470.20 227.10,472.30 225.00,470.20" fill="#101060"/>
<polygon points="238.70,458.10 240.80,460.20 238.70,462.30 236.60,460.20" fill="#101060"/>
<polygon points="239.00,470.60 241.10,472.70 239.00,474.80 236.90,472.70" fill="#101060"/>
<polygon points="263.70,460.00 265.80,462.10 263.70,464.20 261.60,462.10" fill="#101060"/>
<polygon points="270.40,470.20 272.50,472.30 270.40,474.40 268.30,472.30" fill="#101060"/>
<polygon points="352.40,346.30 354.50,348.40 352.40,350.50 350.30,348.40" fill="#101060"/>
<polygon points="353.70,404.20 355.80,406.30 353.70,408.40 351.60,406.30" fill="#101060"/>
<polygon points="361.60,401.60 363.70,403.70 361.60,405.80 359.50,403.70" fill="#101060"/>
<polygon points="368.90,424.00 371.00,426.10 368.90,428.20 366.80,426.10" fill="#101060"/>
<polygon points="368.20,450.30 370.30,452.40 368.20,454.50 366.10,452.40" fill="#101060"/>
<polygon points="367.40,450.70 369.50,452.80 367.40,454.90 365.30,452.80" fill="#101060"/>
</svg>
</body></html>
